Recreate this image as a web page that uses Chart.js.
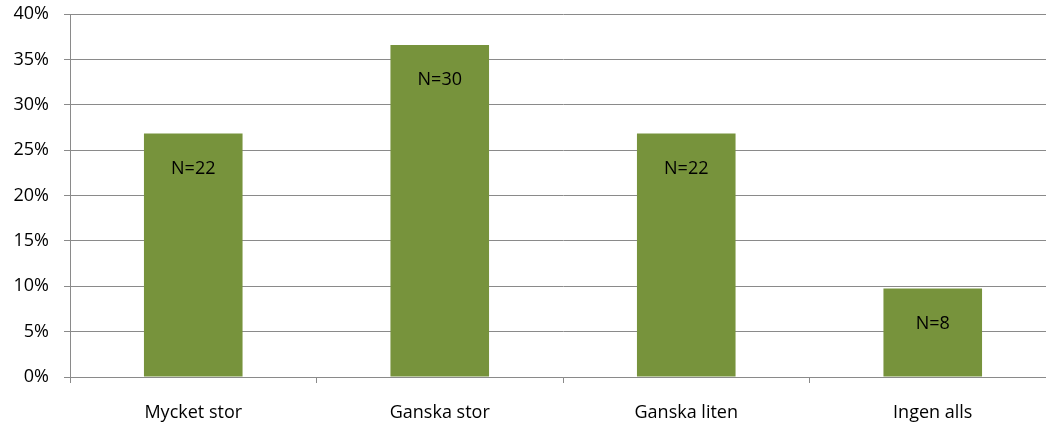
<!DOCTYPE html>
<html>
<head>
<meta charset="utf-8">
<script src="https://cdn.jsdelivr.net/npm/chart.js@4/dist/chart.umd.min.js"></script>
<style>
  html, body { margin: 0; padding: 0; background: #fff; overflow: hidden; }
  #wrap { width: 1060px; height: 423px; position: relative; }
</style>
</head>
<body>
<div id="wrap"><canvas id="c"></canvas></div>
<script>
const categories = ["Mycket stor", "Ganska stor", "Ganska liten", "Ingen alls"];
const counts = [22, 30, 22, 8];
const percentages = [26.83, 36.59, 26.83, 9.76];
const countLabels = ["N=22", "N=30", "N=22", "N=8"];

const FONT = { family: "'Open Sans', Lato, sans-serif", size: 18, lineHeight: 1.2 };
const GRID = "#8a8a8a";

const nLabelPlugin = {
  id: "nLabels",
  afterDatasetsDraw(chart) {
    const ctx = chart.ctx;
    const meta = chart.getDatasetMeta(0);
    ctx.save();
    ctx.font = FONT.size + "px " + FONT.family;
    ctx.fillStyle = "#000";
    ctx.textAlign = "center";
    ctx.textBaseline = "middle";
    meta.data.forEach((bar, i) => {
      ctx.fillText(countLabels[i], bar.x, bar.y + 35);
    });
    ctx.restore();
  }
};

new Chart(document.getElementById("c"), {
  type: "bar",
  data: {
    labels: categories,
    datasets: [{
      data: percentages,
      backgroundColor: "#77933C",
      borderWidth: 0,
      barPercentage: 0.4,
      categoryPercentage: 1.0
    }]
  },
  options: {
    responsive: true,
    maintainAspectRatio: false,
    animation: false,
    layout: { padding: { top: 14, right: 4, bottom: 0, left: 0 } },
    plugins: { legend: { display: false }, tooltip: { enabled: false } },
    scales: {
      x: {
        afterFit(s) { s.height = 46; s.paddingLeft = 0; s.paddingRight = 0; },
        grid: { display: true, drawOnChartArea: false, offset: true, color: GRID, tickLength: 6, lineWidth: 1 },
        border: { display: true, color: GRID, width: 1 },
        ticks: { color: "#000", font: FONT, padding: 19, maxRotation: 0 }
      },
      y: {
        min: 0,
        max: 40,
        afterFit(s) { s.width = 70; s.paddingTop = 0; s.paddingBottom = 0; },
        grid: { color: GRID, tickLength: 6, lineWidth: 1 },
        border: { display: true, color: GRID, width: 1 },
        ticks: { stepSize: 5, color: "#000", font: FONT, padding: 15, callback: v => v + "%" }
      }
    }
  },
  plugins: [nLabelPlugin]
});
</script>
</body>
</html>
